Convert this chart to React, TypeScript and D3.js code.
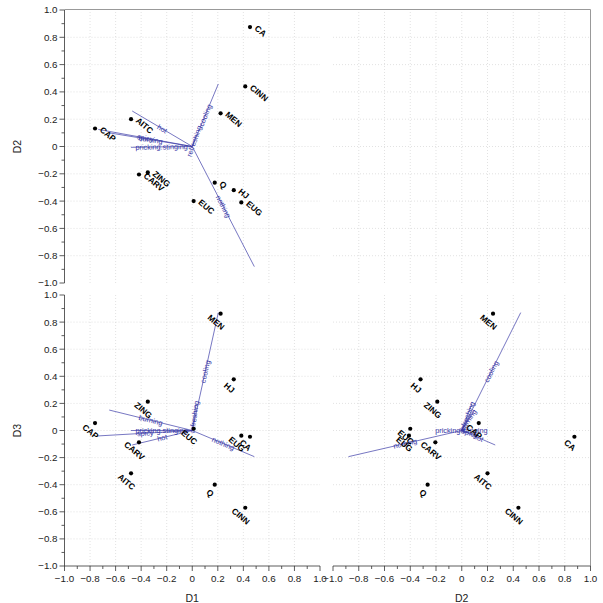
import React from "react";
import * as d3 from "d3";

// ---- data ----
const POINT_NAMES = ["CA", "CINN", "MEN", "AITC", "CAP", "ZING", "CARV", "Q", "HJ", "EUG", "EUC"];
const POINT_D1 = [0.452, 0.415, 0.222, -0.479, -0.761, -0.348, -0.417, 0.176, 0.325, 0.384, 0.011];
const POINT_D2 = [0.875, 0.44, 0.243, 0.2, 0.132, -0.19, -0.205, -0.265, -0.32, -0.41, -0.4];
const POINT_D3 = [-0.046, -0.57, 0.862, -0.316, 0.055, 0.213, -0.087, -0.4, 0.378, -0.038, 0.013];

const ATTR_NAMES = ["cooling", "nothing", "hot", "burning", "spicy", "pricking.stinging", "refreshing"];
const ATTR_D1 = [0.204, 0.486, -0.47, -0.65, -0.735, -0.48, 0.03];
const ATTR_D2 = [0.458, -0.88, 0.26, 0.1, 0.125, -0.006, 0.08];
const ATTR_D3 = [0.87, -0.193, -0.107, 0.151, -0.04, 0.0, 0.2];

const MAJOR_TICKS = [-1, -0.8, -0.6, -0.4, -0.2, 0, 0.2, 0.4, 0.6, 0.8, 1];
const MINOR_TICKS = [-0.9, -0.7, -0.5, -0.3, -0.1, 0.1, 0.3, 0.5, 0.7, 0.9];
const GRID_VALUES = [-0.8, -0.6, -0.4, -0.2, 0, 0.2, 0.4, 0.6, 0.8];

const DIMS: Record<string, { pts: number[]; attrs: number[] }> = {
  D1: { pts: POINT_D1, attrs: ATTR_D1 },
  D2: { pts: POINT_D2, attrs: ATTR_D2 },
  D3: { pts: POINT_D3, attrs: ATTR_D3 },
};

const W = 603;
const H = 603;
const COL_X = [[64.5, 320], [333, 590.5]];
const ROW_Y = [[10, 283], [295, 566]];
const BLUE = "#3535a5";
const FONT = "'Liberation Sans', Arial, Helvetica, sans-serif";

const fmt = (v: number) => (Math.abs(v) < 1e-9 ? "0" : d3.format(".1f")(v).replace("-", "\u2212"));

type Panel = { col: number; row: number; xDim?: string; yDim?: string; mode?: "right" | "below" };
const PANELS: Panel[] = [
  { col: 0, row: 0, xDim: "D1", yDim: "D2", mode: "right" },
  { col: 1, row: 0 },
  { col: 0, row: 1, xDim: "D1", yDim: "D3", mode: "below" },
  { col: 1, row: 1, xDim: "D2", yDim: "D3", mode: "below" },
];

function PanelView({ p }: { p: Panel }) {
  const x = d3.scaleLinear().domain([-1, 1]).range(COL_X[p.col]);
  const y = d3.scaleLinear().domain([-1, 1]).range([ROW_Y[p.row][1], ROW_Y[p.row][0]]);
  const grid = (
    <g stroke="#d6d6d6" strokeWidth={0.7} strokeDasharray="1,2">
      {GRID_VALUES.map((v) => (
        <line key={"gx" + v} x1={x(v)} x2={x(v)} y1={y(-1)} y2={y(1)} />
      ))}
      {GRID_VALUES.map((v) => (
        <line key={"gy" + v} x1={x(-1)} x2={x(1)} y1={y(v)} y2={y(v)} />
      ))}
    </g>
  );
  if (!p.xDim || !p.yDim) return grid;
  const X = DIMS[p.xDim];
  const Y = DIMS[p.yDim];
  const ox = x(0);
  const oy = y(0);
  return (
    <g>
      {grid}
      {/* attribute vectors */}
      <g>
        {ATTR_NAMES.map((name, i) => {
          const ex = x(X.attrs[i]);
          const ey = y(Y.attrs[i]);
          let ang = (Math.atan2(ey - oy, ex - ox) * 180) / Math.PI;
          if (ang > 90) ang -= 180;
          if (ang < -90) ang += 180;
          const mx = (ox + ex) / 2;
          const my = (oy + ey) / 2;
          return (
            <g key={name}>
              <line x1={ox} y1={oy} x2={ex} y2={ey} stroke={BLUE} strokeWidth={0.8} strokeOpacity={0.85} />
              <text
                transform={`translate(${mx},${my}) rotate(${ang})`}
                textAnchor="middle"
                dy="0.35em"
                fontSize={7.3}
                fill={BLUE}
                fontFamily={FONT}
              >
                {name}
              </text>
            </g>
          );
        })}
      </g>
      {/* points */}
      <g>
        {POINT_NAMES.map((name, i) => {
          const px = x(X.pts[i]);
          const py = y(Y.pts[i]);
          const lx = p.mode === "right" ? px + 6 : px - 4.5;
          const ly = p.mode === "right" ? py : py + 8.5;
          return (
            <g key={name}>
              <circle cx={px} cy={py} r={2.1} fill="#000" />
              <text
                transform={`translate(${lx},${ly}) rotate(40)`}
                textAnchor={p.mode === "right" ? "start" : "middle"}
                dy="0.35em"
                fontSize={8.4}
                fontWeight="bold"
                fill="#000"
                fontFamily={FONT}
              >
                {name}
              </text>
            </g>
          );
        })}
      </g>
    </g>
  );
}

function YAxis({ row, title }: { row: number; title: string }) {
  const y = d3.scaleLinear().domain([-1, 1]).range([ROW_Y[row][1], ROW_Y[row][0]]);
  const ax = COL_X[0][0];
  return (
    <g stroke="#333" fontFamily={FONT}>
      <line x1={ax} x2={ax} y1={y(-1)} y2={y(1)} strokeWidth={0.8} />
      {MAJOR_TICKS.map((v) => (
        <g key={v}>
          <line x1={ax - 5} x2={ax} y1={y(v)} y2={y(v)} strokeWidth={0.8} />
          <text x={ax - 7} y={y(v)} dy="0.35em" textAnchor="end" fontSize={9.8} fill="#222" stroke="none">
            {fmt(v)}
          </text>
        </g>
      ))}
      {MINOR_TICKS.map((v) => (
        <line key={"m" + v} x1={ax - 3} x2={ax} y1={y(v)} y2={y(v)} strokeWidth={0.8} />
      ))}
      <text
        transform={`translate(${21},${y(0)}) rotate(-90)`}
        textAnchor="middle"
        fontSize={10.5}
        fill="#222"
        stroke="none"
      >
        {title}
      </text>
    </g>
  );
}

function XAxis({ col, title }: { col: number; title: string }) {
  const x = d3.scaleLinear().domain([-1, 1]).range(COL_X[col]);
  const ay = ROW_Y[1][1];
  return (
    <g stroke="#333" fontFamily={FONT}>
      <line x1={x(-1)} x2={x(1)} y1={ay} y2={ay} strokeWidth={0.8} />
      {MAJOR_TICKS.map((v) => (
        <g key={v}>
          <line x1={x(v)} x2={x(v)} y1={ay} y2={ay + 5} strokeWidth={0.8} />
          <text x={x(v)} y={ay + 15.5} textAnchor="middle" fontSize={9.8} fill="#222" stroke="none">
            {fmt(v)}
          </text>
        </g>
      ))}
      {MINOR_TICKS.map((v) => (
        <line key={"m" + v} x1={x(v)} x2={x(v)} y1={ay} y2={ay + 3} strokeWidth={0.8} />
      ))}
      <text x={x(0)} y={ay + 36} textAnchor="middle" fontSize={10.5} fill="#222" stroke="none">
        {title}
      </text>
    </g>
  );
}

export default function App() {
  return (
    <svg
      width={W}
      height={H}
      style={{ position: "absolute", left: 0, top: 0, background: "#fff" }}
      viewBox={`0 0 ${W} ${H}`}
    >
      <rect x={0} y={0} width={W} height={H} fill="#fff" />
      {PANELS.map((p, i) => (
        <PanelView key={i} p={p} />
      ))}
      {/* outer frame (top and right) */}
      <line x1={COL_X[0][0]} x2={COL_X[1][1]} y1={ROW_Y[0][0] - 0.5} y2={ROW_Y[0][0] - 0.5} stroke="#999" strokeWidth={1} />
      <line x1={COL_X[1][1]} x2={COL_X[1][1]} y1={ROW_Y[0][0] - 0.5} y2={ROW_Y[1][1]} stroke="#999" strokeWidth={1} />
      <YAxis row={0} title="D2" />
      <YAxis row={1} title="D3" />
      <XAxis col={0} title="D1" />
      <XAxis col={1} title="D2" />
    </svg>
  );
}
